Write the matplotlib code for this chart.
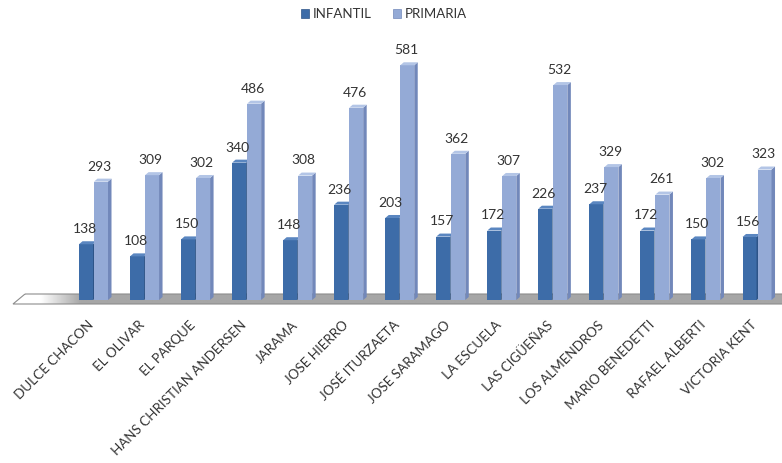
import matplotlib
matplotlib.use("Agg")
import matplotlib.pyplot as plt
import numpy as np
from matplotlib.patches import Polygon, Patch
from matplotlib.transforms import ScaledTranslation

categories = ["DULCE CHACON", "EL OLIVAR", "EL PARQUE", "HANS CHRISTIAN ANDERSEN",
              "JARAMA", "JOSE HIERRO", "JOSÉ ITURZAETA", "JOSE SARAMAGO",
              "LA ESCUELA", "LAS CIGÜEÑAS", "LOS ALMENDROS", "MARIO BENEDETTI",
              "RAFAEL ALBERTI", "VICTORIA KENT"]
infantil = [138, 108, 150, 340, 148, 236, 203, 157, 172, 226, 237, 172, 150, 156]
primaria = [293, 309, 302, 486, 308, 476, 581, 362, 307, 532, 329, 261, 302, 323]
series_names = ["INFANTIL", "PRIMARIA"]

plt.rcParams['font.family'] = ['Lato', 'DejaVu Sans']

W, H, DPI = 782, 463, 100
fig = plt.figure(figsize=(W / DPI, H / DPI), dpi=DPI)

# pixel geometry
px_per_cat = 51.04
x0_px = 93.5
base_px = 300
px_per_unit = 0.404
ax_top_px, ax_bot_px = 20, 305

ax = fig.add_axes([0, (H - ax_bot_px) / H, 1, (ax_bot_px - ax_top_px) / H])
ax.set_xlim((0 - x0_px) / px_per_cat, (W - x0_px) / px_per_cat)
ax.set_ylim(-(ax_bot_px - base_px) / px_per_unit, (base_px - ax_top_px) / px_per_unit)
for s in ax.spines.values():
    s.set_visible(False)
ax.set_yticks([])

def px2x(p):
    return (p - x0_px) / px_per_cat

def px2y(p):
    return (base_px - p) / px_per_unit

# floor
floor = [(px2x(25), px2y(294)), (px2x(790), px2y(294)),
         (px2x(790), px2y(304)), (px2x(13), px2y(304))]
floor_poly = Polygon(floor, closed=True, facecolor='none', edgecolor='#8c8c8c',
                     lw=0.8, zorder=1, clip_on=False)
xs = np.linspace(0, W, 400)
grad = np.clip((xs - 40) / 40, 0, 1)
img = np.ones((2, len(xs), 3))
gray = np.array([0xA6, 0xA6, 0xA6]) / 255
for k in range(3):
    img[:, :, k] = 1 - grad * (1 - gray[k])
im = ax.imshow(img, extent=[px2x(0), px2x(W), px2y(304), px2y(294)],
               aspect='auto', zorder=0.9, interpolation='bilinear')
clip = Polygon(floor, closed=True, transform=ax.transData, facecolor='none')
im.set_clip_path(clip)
ax.add_patch(floor_poly)

idx = np.arange(len(categories))
w = 14 / px_per_cat
off = 7.5 / px_per_cat
dx = 3.5 / px_per_cat
dy = 3.0 / px_per_unit

styles = [
    dict(front='#3D6CA8', side='#2D5488', top='#5A86C0'),
    dict(front='#94AAD6', side='#7288BA', top='#B3C5E6'),
]

def draw_series(xc, vals, st, z):
    bars = ax.bar(xc, vals, width=w, color=st['front'], zorder=z, linewidth=0)
    for b, v in zip(bars, vals):
        xl = b.get_x()
        xr = xl + b.get_width()
        side = Polygon([(xr, 0), (xr, v), (xr + dx, v + dy), (xr + dx, dy)],
                       closed=True, facecolor=st['side'], edgecolor='none', zorder=z)
        top = Polygon([(xl, v), (xr, v), (xr + dx, v + dy), (xl + dx, v + dy)],
                      closed=True, facecolor=st['top'], edgecolor='none', zorder=z)
        ax.add_patch(side)
        ax.add_patch(top)
        ax.annotate(str(v), (b.get_x() + b.get_width() / 2, v), xytext=(-1, 8),
                    textcoords='offset points', ha='center', va='baseline',
                    fontsize=10, color='#333333', zorder=10)
    return bars

draw_series(idx - off, infantil, styles[0], 3)
draw_series(idx + off, primaria, styles[1], 4)

ax.set_xticks(idx)
ax.set_xticklabels(categories, rotation=45, ha='right', rotation_mode='anchor',
                   va='center', fontsize=9.6, color='#333333')
ax.tick_params(axis='x', length=0, pad=13)
for lab in ax.get_xticklabels():
    lab.set_transform(lab.get_transform() + ScaledTranslation(-2 / DPI, 0, fig.dpi_scale_trans))

handles = [Patch(facecolor=styles[0]['front'], edgecolor='#2D5488', lw=0.5),
           Patch(facecolor=styles[1]['front'], edgecolor='#7288BA', lw=0.5)]
fig.legend(handles, series_names, loc='center', bbox_to_anchor=(384 / W, 1 - 14 / H),
           ncol=2, frameon=False, fontsize=9.5, handlelength=0.6, handleheight=0.6,
           handletextpad=0.3, columnspacing=1.6, labelcolor='#333333')

fig.savefig('out.png', dpi=DPI)
